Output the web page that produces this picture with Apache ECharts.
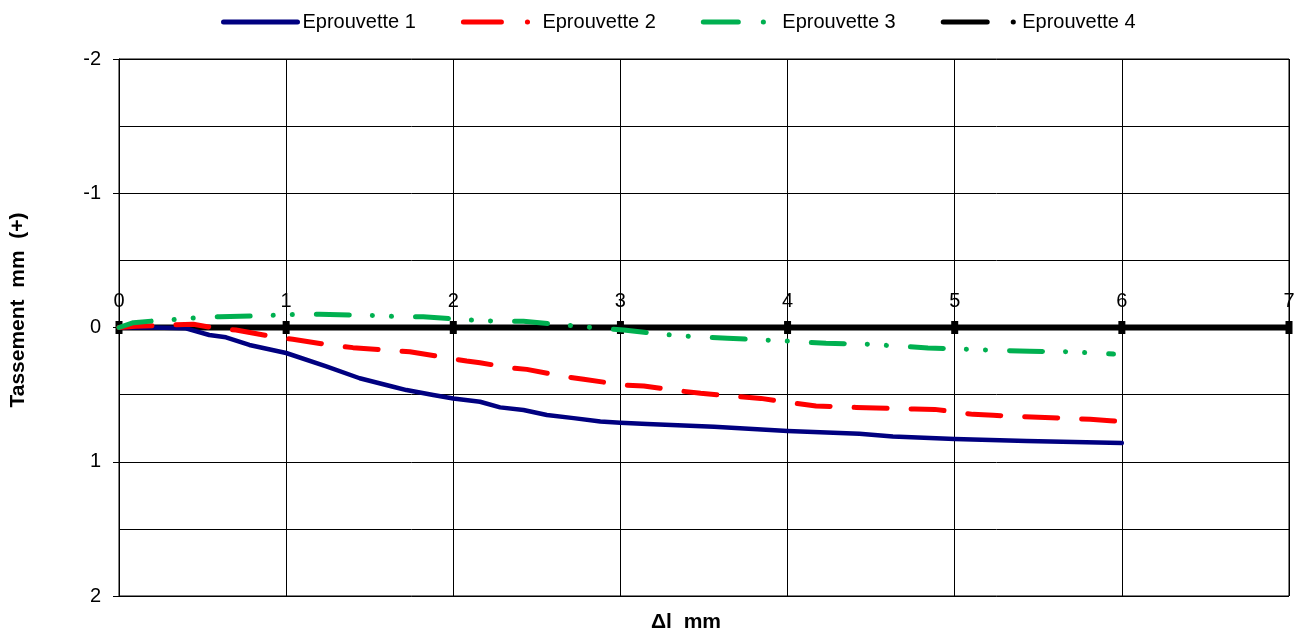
<!DOCTYPE html>
<html>
<head>
<meta charset="utf-8">
<script src="https://cdn.jsdelivr.net/npm/echarts@6/dist/echarts.min.js"></script>
<style>html,body{margin:0;padding:0;background:#fff;}#c{width:1298px;height:637px;}</style>
</head>
<body>
<div id="c"></div>
<script>
const seriesNames = ['Eprouvette 1', 'Eprouvette 2', 'Eprouvette 3', 'Eprouvette 4'];
const xTickLabels = ['0', '1', '2', '3', '4', '5', '6', '7'];
const yTickLabels = ['-2', '-1', '0', '1', '2'];

const ep1X = [0, 0.2, 0.4, 0.54, 0.64, 0.78, 1.0, 1.24, 1.44, 1.64, 1.72, 1.88, 2.0, 2.16, 2.28, 2.42, 2.56, 2.72, 2.88, 3.0, 3.16, 3.56, 4.0, 4.43, 4.63, 5.0, 5.43, 6.0];
const ep1Y = [0, 0, 0.006, 0.056, 0.073, 0.13, 0.19, 0.29, 0.378, 0.441, 0.466, 0.503, 0.529, 0.553, 0.595, 0.615, 0.652, 0.675, 0.70, 0.709, 0.719, 0.739, 0.771, 0.792, 0.812, 0.83, 0.845, 0.86];

const ep2X = [0, 0.1, 0.445, 0.585, 0.70, 0.92, 1.04, 1.26, 1.40, 1.62, 1.74, 1.98, 2.08, 2.16, 2.32, 2.44, 2.67, 2.78, 3.02, 3.14, 3.36, 3.48, 3.71, 3.84, 4.05, 4.17, 4.41, 4.53, 4.76, 4.88, 5.11, 5.23, 5.46, 5.58, 5.81, 5.93, 6.0];
const ep2Y = [0, -0.01, -0.024, 0.006, 0.019, 0.068, 0.088, 0.13, 0.15, 0.17, 0.18, 0.23, 0.25, 0.262, 0.297, 0.312, 0.366, 0.386, 0.428, 0.436, 0.473, 0.49, 0.515, 0.528, 0.565, 0.585, 0.595, 0.600, 0.607, 0.61, 0.647, 0.654, 0.667, 0.672, 0.684, 0.694, 0.70];

const ep3X = [0, 0.086, 0.225, 0.355, 0.465, 0.604, 0.824, 0.963, 1.083, 1.2, 1.44, 1.56, 1.68, 1.82, 2.04, 2.17, 2.30, 2.42, 2.65, 2.78, 2.90, 3.02, 3.25, 3.38, 3.51, 3.64, 3.86, 3.98, 4.11, 4.23, 4.46, 4.59, 4.72, 4.84, 5.07, 5.19, 5.32, 5.45, 5.68, 5.80, 5.95];
const ep3Y = [0, -0.036, -0.051, -0.061, -0.073, -0.08, -0.086, -0.093, -0.098, -0.098, -0.091, -0.088, -0.08, -0.08, -0.061, -0.051, -0.046, -0.046, -0.021, -0.006, 0.009, 0.019, 0.051, 0.063, 0.073, 0.08, 0.093, 0.10, 0.11, 0.118, 0.123, 0.133, 0.143, 0.153, 0.162, 0.168, 0.173, 0.177, 0.18, 0.188, 0.198];

const ep4X = [0, 1, 2, 3, 4, 5, 6, 7];
const ep4Y = [0, 0, 0, 0, 0, 0, 0, 0];

const xAxisTitle = 'Δl  mm';
const yAxisTitle = 'Tassement  mm  (+)';

function pairs(xs, ys) { return xs.map((x, i) => [x, ys[i]]); }

const FONT = '"Liberation Sans", Arial, sans-serif';
const GRID_TOP = 59, GRID_BOTTOM = 596;
const zeroOffset = -((GRID_BOTTOM - GRID_TOP) / 2);

const legendItem = (name, color, dash) => ({
  name,
  itemStyle: {opacity: 0},
  lineStyle: {color, width: 5, type: dash, cap: 'round', opacity: 1}
});

const chart = echarts.init(document.getElementById('c'), null, {renderer: 'canvas'});
chart.setOption({
  animation: false,
  backgroundColor: '#fff',
  textStyle: {fontFamily: FONT},
  legend: {
    left: 216, top: 7,
    itemWidth: 74, itemHeight: 14, itemGap: 45,
    textStyle: {fontSize: 20, color: '#000', fontFamily: FONT},
    data: [
      legendItem(seriesNames[0], '#000080', 'solid'),
      legendItem(seriesNames[1], '#FF0000', [38, 26, 0.1, 100]),
      legendItem(seriesNames[2], '#00B050', [35, 25, 0.1, 100]),
      legendItem(seriesNames[3], '#000000', [44, 26, 0.1, 100])
    ]
  },
  grid: {left: 119, right: 9, top: GRID_TOP, bottom: 637 - GRID_BOTTOM, show: true, borderColor: '#000', borderWidth: 1},
  xAxis: {
    type: 'value', min: 0, max: 7, interval: 1, position: 'top', offset: zeroOffset,
    axisLine: {onZero: false, lineStyle: {color: '#000', width: 1}},
    axisTick: {show: false},
    axisLabel: {color: '#000', fontSize: 20, margin: 16, fontFamily: FONT,
      formatter: v => xTickLabels[Math.round(v)] ?? ''},
    splitLine: {show: true, lineStyle: {color: '#000', width: 1}}
  },
  yAxis: {
    type: 'value', inverse: true, min: -2, max: 2, interval: 1,
    axisLine: {show: true, onZero: false, lineStyle: {color: '#000', width: 1}},
    axisTick: {show: true, length: 6, lineStyle: {color: '#000'}},
    minorTick: {show: false, splitNumber: 2},
    minorSplitLine: {show: true, lineStyle: {color: '#000', width: 1}},
    axisLabel: {color: '#000', fontSize: 20, margin: 18, fontFamily: FONT,
      formatter: v => yTickLabels[Math.round(v) + 2] ?? ''},
    splitLine: {show: true, lineStyle: {color: '#000', width: 1}}
  },
  graphic: [
    {type: 'text', x: 686, y: 622, style: {text: xAxisTitle, font: 'bold 21px ' + FONT, fill: '#000', textAlign: 'center', textVerticalAlign: 'middle'}},
    {type: 'text', x: 18, y: 310, rotation: Math.PI / 2, style: {text: yAxisTitle, font: 'bold 21px ' + FONT, fill: '#000', textAlign: 'center', textVerticalAlign: 'middle'}}
  ],
  series: [
    {name: seriesNames[3], type: 'line', data: pairs(ep4X, ep4Y), z: 1,
      symbol: 'rect', symbolSize: [7, 13], showSymbol: true,
      itemStyle: {color: '#000'}, lineStyle: {color: '#000', width: 6}},
    {name: seriesNames[0], type: 'line', data: pairs(ep1X, ep1Y), z: 2,
      symbol: 'none', itemStyle: {color: '#000080'},
      lineStyle: {color: '#000080', width: 4.5, cap: 'round', join: 'round'}},
    {name: seriesNames[1], type: 'line', data: pairs(ep2X, ep2Y), z: 3,
      symbol: 'none', itemStyle: {color: '#FF0000'},
      lineStyle: {color: '#FF0000', width: 5, type: [33, 24], cap: 'round', join: 'round'}},
    {name: seriesNames[2], type: 'line', data: pairs(ep3X, ep3Y), z: 4,
      symbol: 'none', itemStyle: {color: '#00B050'},
      lineStyle: {color: '#00B050', width: 5, type: [33, 23, 0.1, 19, 0.1, 24], cap: 'round', join: 'round'}}
  ]
});
</script>
</body>
</html>
